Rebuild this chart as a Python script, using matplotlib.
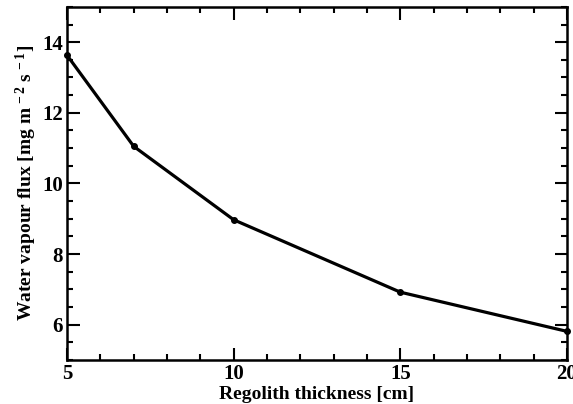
import matplotlib
matplotlib.use("Agg")
import matplotlib.pyplot as plt
from matplotlib.ticker import MultipleLocator

thickness = [5, 7, 10, 15, 20]
flux = [13.63, 11.05, 8.97, 6.92, 5.81]

plt.rcParams['font.family'] = ['Liberation Serif']
plt.rcParams['font.weight'] = 'bold'
plt.rcParams['mathtext.fontset'] = 'custom'
plt.rcParams['mathtext.rm'] = 'Liberation Serif:bold'
plt.rcParams['mathtext.bf'] = 'Liberation Serif:bold'
plt.rcParams['mathtext.it'] = 'Liberation Serif:bold'

fig = plt.figure(figsize=(5.73, 4.04), dpi=100)
ax = fig.add_axes([0.117, 0.109, 0.8725, 0.874])
ax.plot(thickness, flux, color='black', lw=2.3, marker='o', ms=4, clip_on=False, zorder=5)

ax.set_xlim(5, 20)
ax.set_ylim(5, 15)
ax.xaxis.set_major_locator(MultipleLocator(5))
ax.xaxis.set_minor_locator(MultipleLocator(1))
ax.yaxis.set_minor_locator(MultipleLocator(0.5))
ax.set_yticks([6, 8, 10, 12, 14])
ax.tick_params(which='both', direction='in', top=True, right=True, width=1.5, labelsize=15)
ax.tick_params(which='major', length=9, pad=3)
ax.tick_params(which='minor', length=4.5)
for s in ax.spines.values():
    s.set_linewidth(1.8)

ax.set_xlabel('Regolith thickness [cm]', fontsize=14, fontweight='bold', labelpad=1)
ax.set_ylabel(r'Water vapour flux [mg m$^{\,-2}$ s$^{\,-1}$]', fontsize=14, fontweight='bold', labelpad=2)

fig.savefig('out.png', dpi=100)
